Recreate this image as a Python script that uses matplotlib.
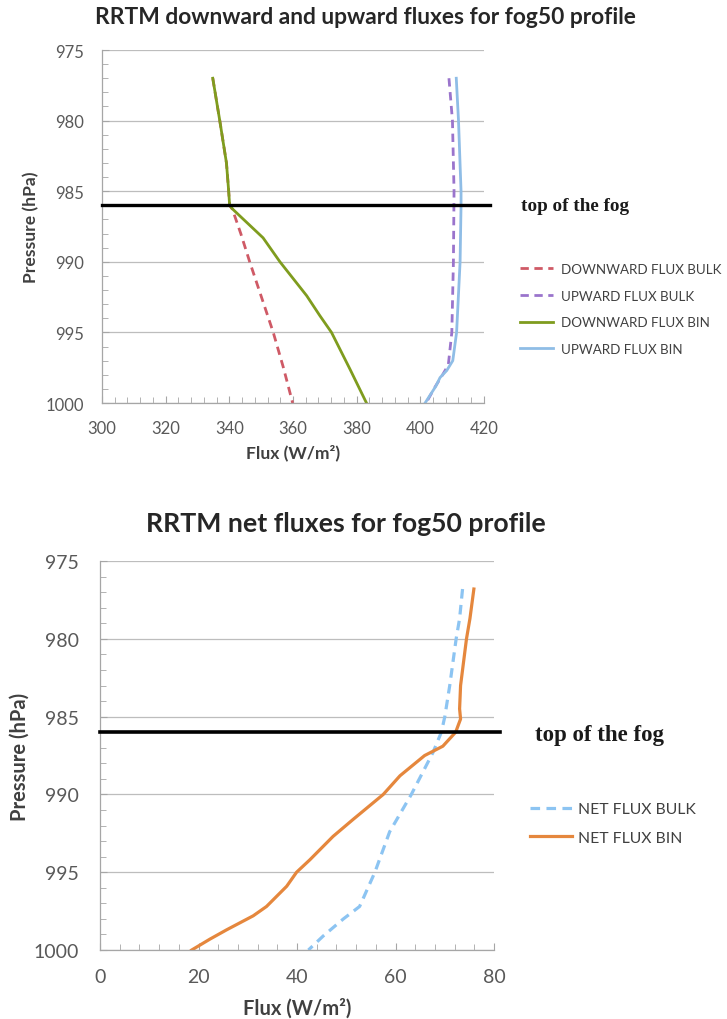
import matplotlib
matplotlib.use("Agg")
import matplotlib.pyplot as plt
from matplotlib.ticker import MultipleLocator

plt.rcParams['font.family'] = ['Lato', 'DejaVu Sans']

# ---- downward / upward fluxes (W/m2) versus pressure (hPa) ----
p_down_bin = [977, 980, 983, 985, 986, 986.3, 986.75, 988.3, 990, 992.4, 993.8, 995, 997.6, 1000]
down_bin = [334.8, 337.0, 339.1, 339.8, 340.1, 341.2, 343.3, 350.6, 355.9, 364.3, 368.4, 372.1, 377.9, 383.1]

p_down_bulk = [977, 980, 983, 985, 986, 986.3, 988, 990, 992.5, 995, 997.5, 1000]
down_bulk = [334.8, 337.0, 339.1, 339.8, 340.1, 341.0, 343.6, 346.4, 350.1, 353.8, 357.0, 359.9]

p_up_bulk = [977, 980, 985, 990, 995, 997.3, 998, 998.8, 1000]
up_bulk = [409.0, 410.1, 410.6, 410.4, 409.9, 408.8, 407.0, 404.8, 401.8]

p_up_bin = [977, 980, 985, 986, 990, 995, 997, 997.7, 998.2, 998.8, 1000]
up_bin = [411.3, 412.0, 412.8, 412.8, 412.5, 411.4, 410.2, 408.3, 406.2, 404.9, 401.5]

# ---- net fluxes (W/m2) ----
p_net_bin = [976.8, 978.7, 980, 983, 984.5, 985.15, 986, 986.9, 987.5, 988.8, 990, 991.6, 992.7,
             994.2, 995, 995.9, 997.2, 997.8, 998.7, 999.3, 1000]
net_bin = [75.9, 75.1, 74.4, 73.2, 73.0, 73.2, 72.2, 69.6, 65.9, 60.9, 57.5, 51.4, 47.3,
           42.6, 39.9, 37.9, 33.8, 31.1, 25.7, 22.3, 18.6]

p_net_bulk = [976.8, 978.7, 980, 983, 985, 986, 987.3, 990, 992.4, 995, 997.2, 998.0, 999.1, 1000]
net_bulk = [73.6, 73.0, 72.3, 71.0, 70.0, 69.3, 67.6, 63.2, 58.8, 55.8, 52.7, 49.4, 45.3, 42.3]

fog_top = 986.0

p_ticks = [975, 980, 985, 990, 995, 1000]
flux_ticks_top = [300, 320, 340, 360, 380, 400, 420]
flux_ticks_net = [0, 20, 40, 60, 80]

TICK_COLOR = '#595959'
GRID_COLOR = '#bdbdbd'

fig = plt.figure(figsize=(7.27, 10.2), dpi=100)


def style_axes(ax, xticks, xminor, tsize, lsize, xpad, ypad, xlabpad):
    ax.set_ylim(1000, 975)
    ax.set_xlim(xticks[0], xticks[-1])
    ax.set_yticks(p_ticks)
    ax.set_xticks(xticks)
    ax.yaxis.set_minor_locator(MultipleLocator(1))
    ax.xaxis.set_minor_locator(MultipleLocator(xminor))
    ax.grid(axis='y', which='major', color=GRID_COLOR, lw=0.9)
    ax.set_axisbelow(True)
    for s in ('top', 'right'):
        ax.spines[s].set_visible(False)
    for s in ('left', 'bottom'):
        ax.spines[s].set_color('#a6a6a6')
        ax.spines[s].set_linewidth(0.9)
    ax.tick_params(which='both', direction='in', color='#a6a6a6', labelcolor=TICK_COLOR,
                   labelsize=tsize)
    ax.tick_params(which='major', length=5)
    ax.tick_params(which='minor', length=4)
    ax.tick_params(axis='x', which='major', pad=xpad)
    ax.tick_params(axis='y', which='major', pad=ypad)
    ax.set_ylabel('Pressure (hPa)', fontsize=lsize, fontweight='bold', color='#404040')
    ax.set_xlabel('Flux (W/m²)', fontsize=lsize, fontweight='bold', color='#404040',
                  labelpad=xlabpad)


# ---------- upper panel ----------
ax1 = fig.add_axes([0.1403, 0.6039, 0.5254, 0.3461])
ax1.plot(down_bulk, p_down_bulk, color='#cf5a66', lw=2.0, ls=(0, (3, 2)), label='DOWNWARD FLUX BULK')
ax1.plot(up_bulk, p_up_bulk, color='#9a74cc', lw=2.0, ls=(0, (3, 2)), label='UPWARD FLUX BULK')
ax1.plot(down_bin, p_down_bin, color='#7f9c1e', lw=2.0, label='DOWNWARD FLUX BIN')
ax1.plot(up_bin, p_up_bin, color='#8fbde6', lw=2.0, label='UPWARD FLUX BIN')
ax1.axhline(fog_top, xmin=0, xmax=1.016, color='black', lw=2.4, clip_on=False, zorder=5)
style_axes(ax1, flux_ticks_top, 4, 12, 12.6, 12, 13, 6)
ax1.yaxis.set_label_coords(-0.165, 0.5)
fig.text(365 / 727, 1 - 18 / 1020, 'RRTM downward and upward fluxes for fog50 profile', ha='center',
         va='center', fontsize=16.4, fontweight='bold', color='#262626')
fig.text(521 / 727, 1 - 207 / 1020, 'top of the fog', ha='left', va='center',
         family='Liberation Serif', fontweight='bold', fontsize=13.8, color='#1a1a1a')
ax1.legend(loc='upper left', bbox_to_anchor=(520 / 727, 1 - 264 / 1020),
           bbox_transform=fig.transFigure, frameon=False, fontsize=9.6,
           borderpad=0, borderaxespad=0,
           handlelength=2.5, handletextpad=0.55, labelspacing=1.1, labelcolor='#404040')

# ---------- lower panel ----------
ax2 = fig.add_axes([0.1376, 0.0676, 0.542, 0.3814])
ax2.plot(net_bulk, p_net_bulk, color='#8cc4f2', lw=2.3, ls=(0, (3, 2)), label='NET FLUX BULK')
ax2.plot(net_bin, p_net_bin, color='#e5873d', lw=2.3, label='NET FLUX BIN')
ax2.axhline(fog_top, xmin=0, xmax=1.015, color='black', lw=2.6, clip_on=False, zorder=5)
style_axes(ax2, flux_ticks_net, 4, 14, 14.5, 13, 15, 9)
ax2.yaxis.set_label_coords(-0.178, 0.5)
fig.text(346 / 727, 1 - 524 / 1020, 'RRTM net fluxes for fog50 profile', ha='center', va='center',
         fontsize=19.2, fontweight='bold', color='#262626')
fig.text(535 / 727, 1 - 736 / 1020, 'top of the fog', ha='left', va='center',
         family='Liberation Serif', fontweight='bold', fontsize=16.5, color='#1a1a1a')
ax2.legend(loc='upper left', bbox_to_anchor=(530 / 727, 1 - 803 / 1020),
           bbox_transform=fig.transFigure, frameon=False, fontsize=11.3,
           borderpad=0, borderaxespad=0,
           handlelength=2.7, handletextpad=0.35, labelspacing=0.94, labelcolor='#404040')

fig.savefig('out.png', dpi=100)
